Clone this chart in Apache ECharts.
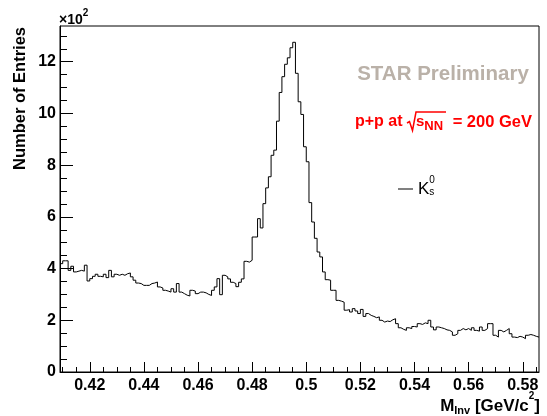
<!DOCTYPE html>
<html><head><meta charset="utf-8">
<script src="https://cdn.jsdelivr.net/npm/echarts@6/dist/echarts.min.js"></script>
<style>html,body{margin:0;padding:0;background:#fff}#c{width:547px;height:416px}</style>
</head><body><div id="c"></div>
<script>
// ---- data (entries in units of 10^2) ----
const binLow = 0.409;
const binWidth = 0.001;
const counts = [
  4.19,4.30,4.30,3.93,4.09,3.87,3.90,3.93,3.90,4.13,
  3.52,3.61,3.70,3.78,3.70,3.68,3.78,3.65,3.93,3.68,
  3.78,3.74,3.78,3.74,3.80,3.83,3.68,3.55,3.44,3.42,
  3.35,3.35,3.35,3.42,3.44,3.48,3.29,3.25,3.16,3.13,
  3.09,3.22,3.09,3.42,3.09,3.03,2.97,2.94,3.16,3.13,
  3.03,3.09,3.09,3.06,3.00,2.96,3.16,3.29,3.61,2.99,
  3.74,3.68,3.60,3.47,3.42,3.30,3.47,3.60,4.28,4.25,
  4.32,5.22,5.22,5.93,5.57,6.51,7.12,7.55,8.38,8.58,
  9.70,10.81,11.42,11.90,12.15,12.54,12.75,11.55,10.45,9.96,
  8.71,8.13,6.55,5.80,5.17,4.64,4.45,3.87,3.57,3.55,
  3.16,3.16,2.77,2.74,2.70,2.39,2.41,2.32,2.45,2.36,
  2.26,2.42,2.15,2.26,2.19,2.15,2.10,2.13,2.00,1.93,
  1.97,1.95,2.02,2.06,1.87,1.71,1.65,1.61,1.71,1.68,
  1.76,1.74,1.87,1.84,1.90,1.87,2.00,1.74,1.63,1.74,
  1.71,1.68,1.63,1.61,1.55,1.42,1.48,1.61,1.68,1.63,
  1.68,1.61,1.71,1.61,1.58,1.74,1.61,1.68,1.87,1.87,
  1.42,1.35,1.61,1.55,1.61,1.68,1.48,1.35,1.33,1.38,
  1.35,1.29,1.42,1.45,1.42,1.38,1.35
];
const xRange = [0.409, 0.586];
const yRange = [0, 13.38];
const xMajorTicks = [0.42,0.44,0.46,0.48,0.5,0.52,0.54,0.56,0.58];
const xMinorTicks = [0.41,0.415,0.425,0.43,0.435,0.445,0.45,0.455,0.465,0.47,0.475,
  0.485,0.49,0.495,0.505,0.51,0.515,0.525,0.53,0.535,0.545,0.55,0.555,0.565,0.57,0.575,0.585];
const yMajorTicks = [0,2,4,6,8,10,12];
const yMinorTicks = [0.5,1,1.5,2.5,3,3.5,4.5,5,5.5,6.5,7,7.5,8.5,9,9.5,10.5,11,11.5,12.5,13];
const seriesName = 'K0s';

// ---- build step histogram points from the bins ----
const histPoints = counts.map((v, i) => [binLow + i * binWidth, v]);
histPoints.push([binLow + counts.length * binWidth, counts[counts.length - 1]]);

const FF = '"Liberation Sans", Arial, Helvetica, sans-serif';
const chart = echarts.init(document.getElementById('c'), null, {renderer: 'canvas'});
const tickLabel = {fontSize: 16, fontWeight: 'bold', fontFamily: FF, color: '#000'};

chart.setOption({
  animation: false,
  textStyle: {fontFamily: FF},
  grid: {left: 60, top: 26, width: 479, height: 346, show: true, borderColor: '#000', borderWidth: 1,
         containLabel: false, outerBoundsMode: 'none'},
  xAxis: [
    {type: 'value', min: xRange[0], max: xRange[1], position: 'bottom',
     axisLine: {show: true, onZero: false, lineStyle: {color: '#000', width: 1}},
     axisTick: {show: true, inside: true, length: 10, customValues: xMajorTicks, lineStyle: {color: '#000'}},
     axisLabel: Object.assign({customValues: xMajorTicks, margin: 6, formatter: v => String(v)}, tickLabel),
     splitLine: {show: false}},
    {type: 'value', min: xRange[0], max: xRange[1], position: 'bottom',
     axisLine: {show: false, onZero: false},
     axisTick: {show: true, inside: true, length: 5, customValues: xMinorTicks, lineStyle: {color: '#000'}},
     axisLabel: {show: false}, splitLine: {show: false}}
  ],
  yAxis: [
    {type: 'value', min: yRange[0], max: yRange[1], position: 'left',
     axisLine: {show: true, onZero: false, lineStyle: {color: '#000', width: 1}},
     axisTick: {show: true, inside: true, length: 13, customValues: yMajorTicks, lineStyle: {color: '#000'}},
     axisLabel: Object.assign({customValues: yMajorTicks, margin: 4, formatter: v => String(v)}, tickLabel),
     splitLine: {show: false}},
    {type: 'value', min: yRange[0], max: yRange[1], position: 'left',
     axisLine: {show: false, onZero: false},
     axisTick: {show: true, inside: true, length: 7, customValues: yMinorTicks, lineStyle: {color: '#000'}},
     axisLabel: {show: false}, splitLine: {show: false}}
  ],
  legend: {
    show: true, left: 398, top: 175, padding: 0, itemWidth: 15, itemHeight: 1, selectedMode: false,
    data: [{name: seriesName, icon: 'rect'}],
    itemStyle: {color: '#000'},
    formatter: () => '{k|K}{p|0}{b|s}',
    textStyle: {
      rich: {
        k: {fontSize: 17, fontFamily: FF, color: '#000', lineHeight: 22},
        p: {fontSize: 10, fontFamily: FF, color: '#000', lineHeight: 10, width: 0.01, padding: [0, 0, 18, 0]},
        b: {fontSize: 10, fontFamily: FF, color: '#000', lineHeight: 10, padding: [7, 0, 0, 0]}
      }
    }
  },
  series: [{
    type: 'line', name: seriesName, xAxisIndex: 0, yAxisIndex: 0,
    data: histPoints, step: 'end', symbol: 'none', showSymbol: false,
    lineStyle: {color: '#000', width: 1}, itemStyle: {color: '#000'}, silent: true
  }],
  graphic: [
    {type: 'text', x: 20, y: 27, rotation: Math.PI / 2,
     style: {text: 'Number of Entries', fontSize: 16.5, fontWeight: 'bold', fontFamily: FF, fill: '#000',
             align: 'right', verticalAlign: 'middle', textAlign: 'right', textVerticalAlign: 'middle'}},
    {type: 'text', x: 59, y: 20,
     style: {text: '{a|×10}{s|2}', fill: '#000', align: 'left', verticalAlign: 'middle',
             textAlign: 'left', textVerticalAlign: 'middle',
             rich: {a: {fontSize: 14, fontWeight: 'bold', fontFamily: FF, fill: '#000', color: '#000', lineHeight: 16},
                    s: {fontSize: 10, fontWeight: 'bold', fontFamily: FF, fill: '#000', color: '#000', lineHeight: 10, padding: [0, 0, 13, 0]}}}},
    {type: 'text', x: 540, y: 406,
     style: {text: '{m|M}{d|Inv}{m| [GeV/c}{u|2}{m|]}', fill: '#000', align: 'right', verticalAlign: 'middle',
             textAlign: 'right', textVerticalAlign: 'middle',
             rich: {m: {fontSize: 17, fontWeight: 'bold', fontFamily: FF, color: '#000', lineHeight: 20},
                    d: {fontSize: 11, fontWeight: 'bold', fontFamily: FF, color: '#000', lineHeight: 11, padding: [10, 0, 0, 0]},
                    u: {fontSize: 10, fontWeight: 'bold', fontFamily: FF, color: '#000', lineHeight: 10, padding: [0, 0, 20, 0]}}}},
    {type: 'text', x: 443, y: 74,
     style: {text: 'STAR Preliminary', fontSize: 20.5, fontWeight: 'bold', fontFamily: FF, fill: '#bab1a8',
             align: 'center', verticalAlign: 'middle', textAlign: 'center', textVerticalAlign: 'middle'}},
    {type: 'text', x: 355, y: 122,
     style: {text: 'p+p at', fontSize: 16, fontWeight: 'bold', fontFamily: FF, fill: '#ff0000',
             align: 'left', verticalAlign: 'middle', textAlign: 'left', textVerticalAlign: 'middle'}},
    {type: 'polyline', shape: {points: [[407, 123], [409.5, 121.5], [412.5, 130.5], [416, 112], [446, 112]]},
     style: {stroke: '#ff0000', lineWidth: 1.5, fill: null}},
    {type: 'text', x: 416, y: 122,
     style: {text: '{s|s}{n|NN}', fill: '#ff0000', align: 'left', verticalAlign: 'middle',
             textAlign: 'left', textVerticalAlign: 'middle',
             rich: {s: {fontSize: 15, fontWeight: 'bold', fontFamily: FF, color: '#ff0000', lineHeight: 18},
                    n: {fontSize: 13, fontWeight: 'bold', fontFamily: FF, color: '#ff0000', lineHeight: 12, padding: [8, 0, 0, 0]}}}},
    {type: 'text', x: 532, y: 122,
     style: {text: '= 200 GeV', fontSize: 16.5, fontWeight: 'bold', fontFamily: FF, fill: '#ff0000',
             align: 'right', verticalAlign: 'middle', textAlign: 'right', textVerticalAlign: 'middle'}}
  ]
});
</script>
</body></html>
